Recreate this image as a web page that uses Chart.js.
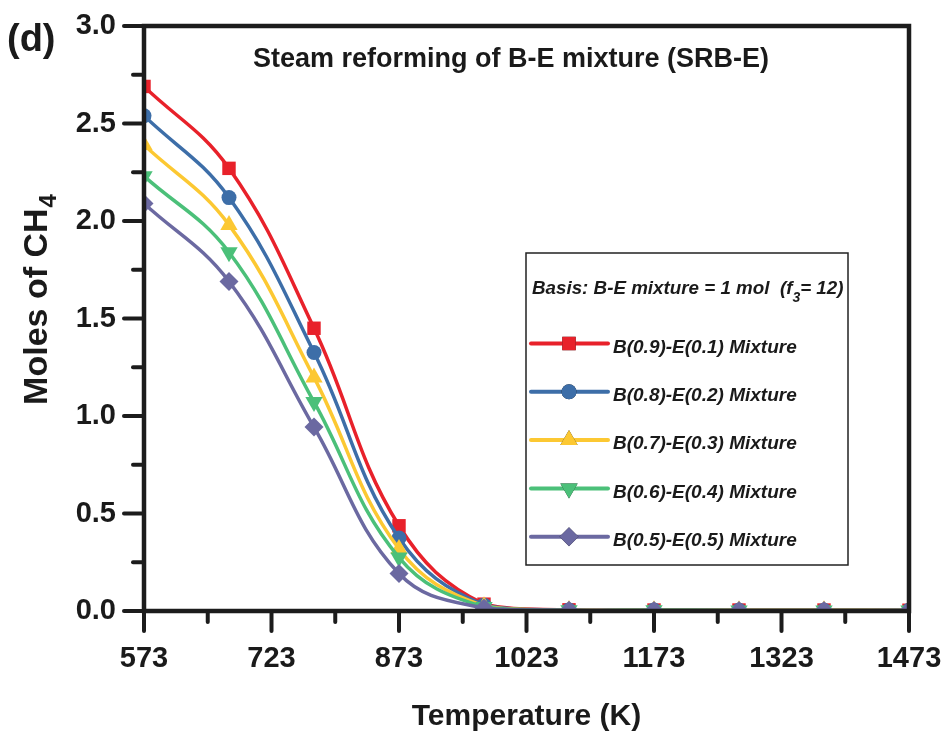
<!DOCTYPE html>
<html lang="en">
<head>
    <meta charset="UTF-8">
    <title>Steam reforming of B-E mixture (SRB-E)</title>
    <script src="https://cdnjs.cloudflare.com/ajax/libs/Chart.js/4.4.0/chart.umd.min.js"></script>
    <style>
        html, body { margin: 0; padding: 0; background: #fff; overflow: hidden; }
        .chart-container { position: relative; width: 946px; height: 735px; }
    </style>
</head>
<body>
    <div class="chart-container">
        <canvas id="ch4Chart"></canvas>
    </div>

    <script>
        // Data
        const temperatures = [573, 673, 773, 873, 973, 1073, 1173, 1273, 1373, 1473];
        const xTicks = [573, 723, 873, 1023, 1173, 1323, 1473];
        const yTicks = [0, 0.5, 1.0, 1.5, 2.0, 2.5, 3.0];

        const seriesNames = [
            'B(0.9)-E(0.1) Mixture',
            'B(0.8)-E(0.2) Mixture',
            'B(0.7)-E(0.3) Mixture',
            'B(0.6)-E(0.4) Mixture',
            'B(0.5)-E(0.5) Mixture'
        ];
        const b09e01 = [2.69, 2.27, 1.45, 0.437, 0.035, 0.006, 0.005, 0.005, 0.005, 0.004];
        const b08e02 = [2.54, 2.12, 1.326, 0.374, 0.030, 0.005, 0.005, 0.004, 0.004, 0.004];
        const b07e03 = [2.39, 1.98, 1.198, 0.318, 0.025, 0.005, 0.004, 0.004, 0.004, 0.003];
        const b06e04 = [2.23, 1.84, 1.072, 0.274, 0.020, 0.004, 0.004, 0.003, 0.003, 0.003];
        const b05e05 = [2.09, 1.69, 0.943, 0.192, 0.015, 0.004, 0.003, 0.003, 0.003, 0.003];

        const seriesColors = ['#e8212a', '#3d6ea8', '#fcc832', '#4bc079', '#6b69a1'];
        const markerStyles = ['rect', 'circle', 'triangle', 'triangle', 'rectRot'];
        const markerRotation = [0, 0, 0, 180, 0];
        const markerRadius = [9.5, 7.5, 10, 10, 9.5];

        const FONT = '"Liberation Sans", Arial, sans-serif';
        const seriesValues = [b09e01, b08e02, b07e03, b06e04, b05e05];

        const datasets = seriesValues.map((vals, i) => ({
            label: seriesNames[i],
            data: temperatures.map((t, j) => ({ x: t, y: vals[j] })),
            borderColor: seriesColors[i],
            backgroundColor: seriesColors[i],
            borderWidth: 3.5,
            pointStyle: markerStyles[i],
            pointRotation: markerRotation[i],
            pointRadius: markerRadius[i],
            pointBorderWidth: 0,
            tension: 0.4,
            order: 4 - i   // last series ends up on top
        }));

        // frame, outward major/minor ticks
        const framePlugin = {
            id: 'frame',
            afterDatasetsDraw(chart) {
                const { ctx, chartArea: a, scales: { x, y } } = chart;
                ctx.save();
                ctx.strokeStyle = '#1c1c1c';
                ctx.lineWidth = 4;
                ctx.lineCap = 'round';
                const seg = (x1, y1, x2, y2) => {
                    ctx.beginPath(); ctx.moveTo(x1, y1); ctx.lineTo(x2, y2); ctx.stroke();
                };
                xTicks.forEach((v, i) => {
                    const px = x.getPixelForValue(v);
                    seg(px, a.bottom, px, a.bottom + 20);
                    if (i < xTicks.length - 1) {
                        const pm = x.getPixelForValue((v + xTicks[i + 1]) / 2);
                        seg(pm, a.bottom, pm, a.bottom + 11);
                    }
                });
                yTicks.forEach((v, i) => {
                    const py = y.getPixelForValue(v);
                    seg(a.left, py, a.left - 20, py);
                    if (i < yTicks.length - 1) {
                        const pm = y.getPixelForValue((v + yTicks[i + 1]) / 2);
                        seg(a.left, pm, a.left - 11, pm);
                    }
                });
                ctx.lineCap = 'butt';
                ctx.lineWidth = 4.5;
                ctx.strokeRect(a.left, a.top, a.right - a.left, a.bottom - a.top);
                ctx.restore();
            }
        };

        // panel letter, title, y title with subscript, legend box
        const textPlugin = {
            id: 'texts',
            afterDraw(chart) {
                const ctx = chart.ctx;
                ctx.save();
                ctx.fillStyle = '#1a1a1a';
                ctx.textBaseline = 'alphabetic';

                ctx.font = 'bold 38px ' + FONT;
                ctx.textAlign = 'left';
                ctx.fillText('(d)', 7, 51);

                ctx.font = 'bold 27px ' + FONT;
                ctx.textAlign = 'center';
                ctx.fillText('Steam reforming of B-E mixture (SRB-E)', 511, 67);

                // y axis title
                ctx.save();
                ctx.translate(47, 300);
                ctx.rotate(-Math.PI / 2);
                ctx.font = 'bold 34px ' + FONT;
                const main = 'Moles of CH';
                const wMain = ctx.measureText(main).width;
                ctx.font = 'bold 24px ' + FONT;
                const wSub = ctx.measureText('4').width;
                const start = -(wMain + wSub) / 2;
                ctx.textAlign = 'left';
                ctx.font = 'bold 34px ' + FONT;
                ctx.fillText(main, start, 0);
                ctx.font = 'bold 24px ' + FONT;
                ctx.fillText('4', start + wMain + 1, 9);
                ctx.restore();

                // legend box
                ctx.strokeStyle = '#222';
                ctx.lineWidth = 1.5;
                ctx.strokeRect(526, 253, 322, 312);

                ctx.textAlign = 'left';
                ctx.font = 'italic bold 18.8px ' + FONT;
                const head = 'Basis: B-E mixture = 1 mol  (f';
                ctx.fillText(head, 532, 294);
                let hx = 532 + ctx.measureText(head).width;
                ctx.font = 'italic bold 14px ' + FONT;
                ctx.fillText('3', hx, 302);
                hx += ctx.measureText('3').width;
                ctx.font = 'italic bold 18.8px ' + FONT;
                ctx.fillText('= 12)', hx, 294);

                chart.data.datasets.forEach((ds, i) => {
                    const ly = 343.5 + i * 48.3;
                    ctx.strokeStyle = ds.borderColor;
                    ctx.lineWidth = 4;
                    ctx.lineCap = 'round';
                    ctx.beginPath(); ctx.moveTo(531, ly); ctx.lineTo(608, ly); ctx.stroke();
                    Chart.helpers.drawPoint(ctx, {
                        pointStyle: ds.pointStyle,
                        rotation: ds.pointRotation,
                        radius: ds.pointRadius,
                        borderWidth: 0
                    }, 569, ly);
                    ctx.fillStyle = ds.backgroundColor;
                    ctx.fill();
                    ctx.fillStyle = '#1a1a1a';
                    ctx.font = 'italic bold 19px ' + FONT;
                    ctx.textBaseline = 'middle';
                    ctx.fillText(ds.label, 613, ly + 4);
                    ctx.textBaseline = 'alphabetic';
                });
                ctx.restore();
            }
        };

        new Chart(document.getElementById('ch4Chart'), {
            type: 'line',
            data: { datasets },
            options: {
                responsive: true,
                maintainAspectRatio: false,
                animation: false,
                layout: { padding: { left: 0, top: 26, right: 37, bottom: 0 } },
                plugins: {
                    legend: { display: false },
                    tooltip: { enabled: false }
                },
                scales: {
                    x: {
                        type: 'linear',
                        min: 573,
                        max: 1473,
                        afterBuildTicks: s => { s.ticks = xTicks.map(v => ({ value: v })); },
                        afterFit: s => { s.height = 124; s.paddingLeft = 0; s.paddingRight = 0; },
                        grid: { display: false, drawTicks: false },
                        border: { display: false },
                        ticks: {
                            padding: 31,
                            color: '#1a1a1a',
                            font: { family: FONT, size: 29, weight: 'bold' },
                            maxRotation: 0,
                            autoSkip: false,
                            callback: v => String(v)
                        },
                        title: {
                            display: true,
                            text: 'Temperature (K)',
                            color: '#1a1a1a',
                            font: { family: FONT, size: 30, weight: 'bold' },
                            padding: { top: 16, bottom: 0 }
                        }
                    },
                    y: {
                        min: 0,
                        max: 3,
                        afterBuildTicks: s => { s.ticks = yTicks.map(v => ({ value: v })); },
                        afterFit: s => { s.width = 144; s.paddingTop = 0; s.paddingBottom = 0; },
                        grid: { display: false, drawTicks: false },
                        border: { display: false },
                        ticks: {
                            padding: 28,
                            color: '#1a1a1a',
                            font: { family: FONT, size: 29, weight: 'bold' },
                            callback: v => v.toFixed(1)
                        }
                    }
                }
            },
            plugins: [framePlugin, textPlugin]
        });
    </script>
</body>
</html>
